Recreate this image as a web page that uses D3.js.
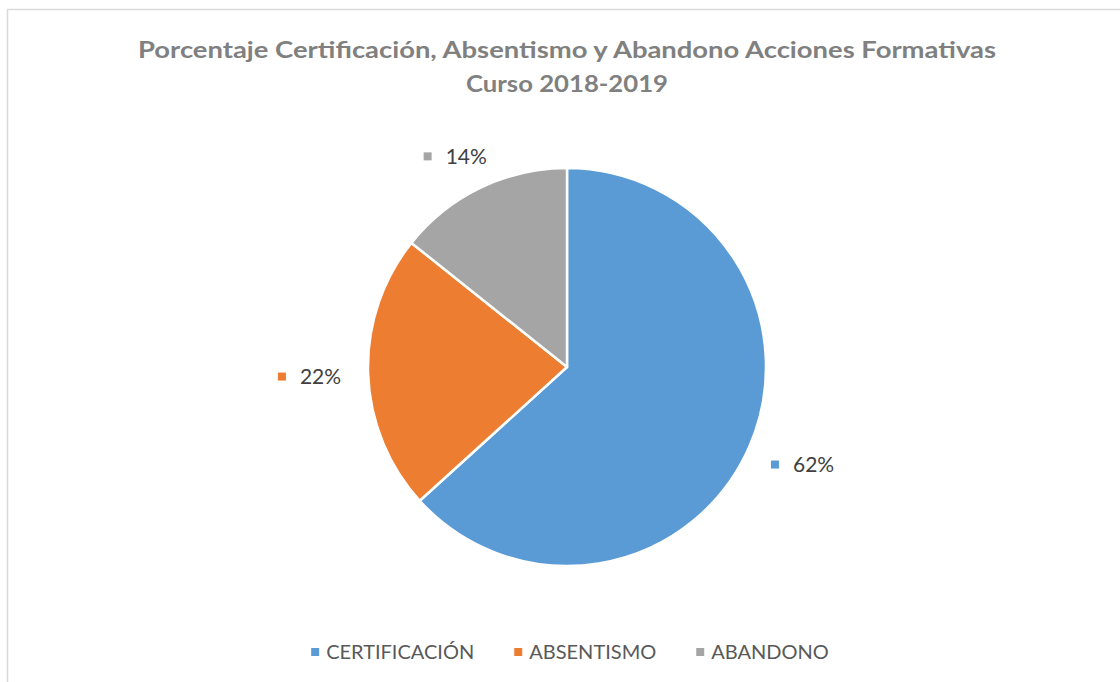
<!DOCTYPE html>
<html>
<head>
<meta charset="utf-8">
<script src="https://cdn.jsdelivr.net/npm/d3@7"></script>
<style>
  body { margin: 0; background: #fff; }
  svg { display: block; font-family: Lato, "Open Sans", sans-serif; }
</style>
</head>
<body>
<div id="chart"></div>
<script>
// Data
const categories = ["CERTIFICACIÓN", "ABSENTISMO", "ABANDONO"];
const values = [62, 22, 14];
const valueLabels = ["62%", "22%", "14%"];
const colors = ["#5B9BD5", "#ED7D31", "#A5A5A5"];
const titleLines = ["Porcentaje Certificación, Absentismo y Abandono Acciones Formativas", "Curso 2018-2019"];
const titleWidths = [858, 202];

const width = 1120, height = 682;
const cx = 567, cy = 367, radius = 199;

const svg = d3.select("#chart").append("svg")
    .attr("width", width)
    .attr("height", height);

// chart area border (runs off the right/bottom of the picture)
svg.append("rect")
    .attr("x", 7.5).attr("y", 9.5)
    .attr("width", 1140).attr("height", 700)
    .attr("fill", "#fff")
    .attr("stroke", "#d9d9d9")
    .attr("stroke-width", 1.5);

// Title
svg.selectAll(".title")
    .data(titleLines)
    .enter().append("text")
    .attr("class", "title")
    .attr("x", cx)
    .attr("y", (d, i) => 58 + i * 34)
    .attr("text-anchor", "middle")
    .attr("font-size", 23)
    .attr("font-weight", 700)
    .attr("fill", "#808080")
    .attr("textLength", (d, i) => titleWidths[i])
    .attr("lengthAdjust", "spacingAndGlyphs")
    .text(d => d);

// Pie
const data = categories.map((c, i) => ({name: c, value: values[i], label: valueLabels[i], color: colors[i]}));
const pie = d3.pie().value(d => d.value).sort(null);
const arc = d3.arc().innerRadius(0).outerRadius(radius);
const arcs = pie(data);

const g = svg.append("g").attr("transform", `translate(${cx},${cy})`);

g.selectAll("path.slice")
    .data(arcs)
    .enter().append("path")
    .attr("class", "slice")
    .attr("d", arc)
    .attr("fill", d => d.data.color)
    .attr("stroke", "#fff")
    .attr("stroke-width", 2.5)
    .attr("stroke-linejoin", "round");

// Data labels, outside end with a colour key square
const labelFont = 20;
const labelGroups = g.selectAll("g.dlabel")
    .data(arcs)
    .enter().append("g")
    .attr("class", "dlabel");

labelGroups.append("rect")
    .attr("width", 8).attr("height", 8)
    .attr("fill", d => d.data.color);

labelGroups.append("text")
    .attr("font-size", 21)
    .attr("fill", "#404040")
    .attr("x", 22)
    .attr("y", 4)
    .attr("dy", "0.35em")
    .text(d => d.data.label);

labelGroups.each(function(d) {
    const grp = d3.select(this);
    const tw = grp.select("text").node().getComputedTextLength();
    const boxW = 22 + tw, boxH = 20;
    const a = (d.startAngle + d.endAngle) / 2;
    const s = Math.sin(a), c = -Math.cos(a);
    const rr = radius + 27;
    const bx = s * rr + s * boxW / 2;
    const by = c * rr + c * boxH / 2;
    grp.attr("transform", `translate(${bx - boxW / 2},${by - 2})`);
});

// Legend
const legend = svg.append("g").attr("class", "legend");
const items = legend.selectAll("g.item")
    .data(data)
    .enter().append("g")
    .attr("class", "item");

items.append("rect")
    .attr("width", 8).attr("height", 8)
    .attr("y", -4)
    .attr("fill", d => d.color);

items.append("text")
    .attr("x", 15)
    .attr("dy", "0.35em")
    .attr("font-size", labelFont)
    .attr("fill", "#595959")
    .text(d => d.name);

const gap = 40;
let widths = [];
items.each(function() { widths.push(15 + d3.select(this).select("text").node().getComputedTextLength()); });
const total = d3.sum(widths) + gap * (widths.length - 1);
let xpos = cx - total / 2 + 3;
items.attr("transform", (d, i) => {
    const t = `translate(${xpos},652)`;
    xpos += widths[i] + gap;
    return t;
});
</script>
</body>
</html>
